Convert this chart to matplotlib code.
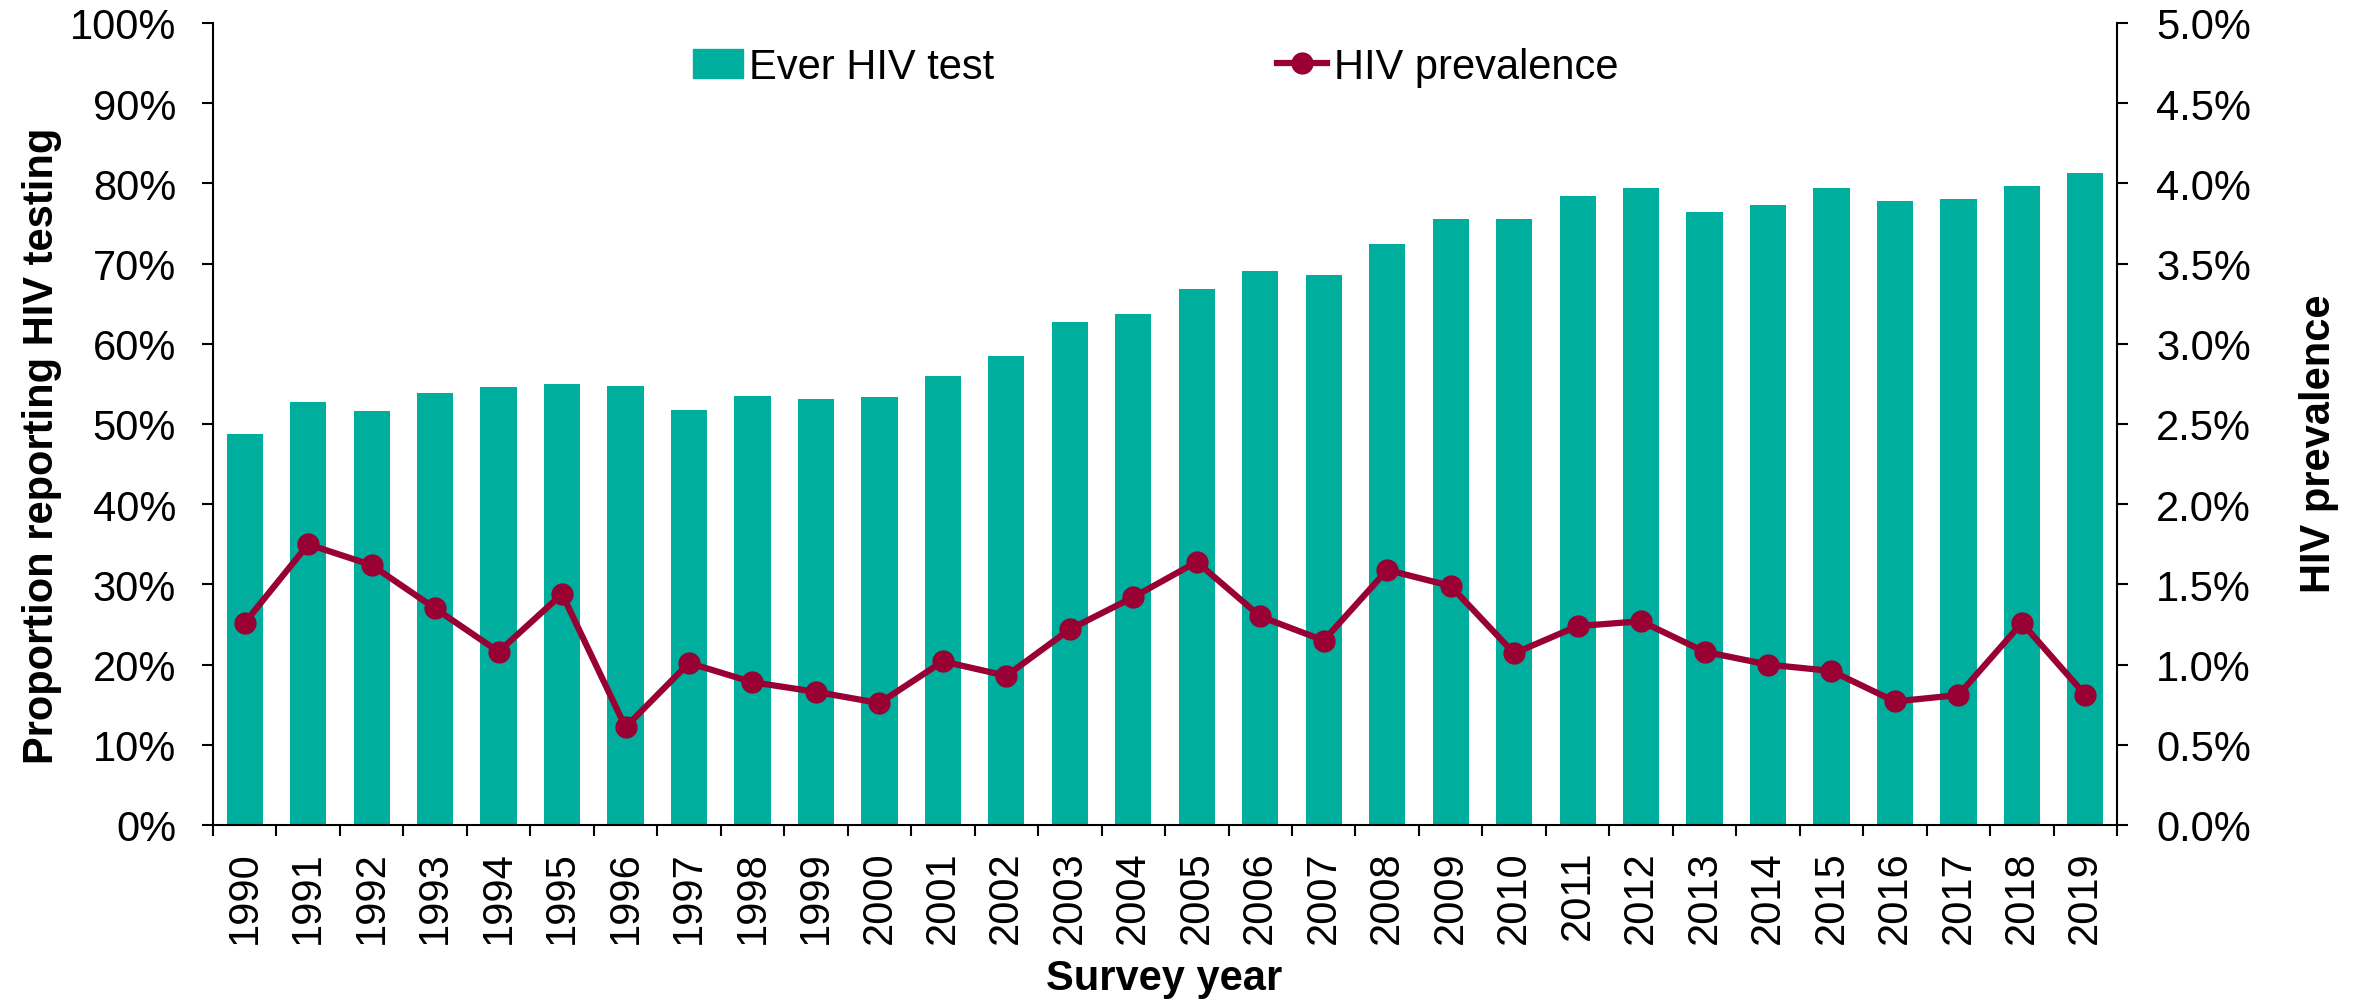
import matplotlib
matplotlib.use('Agg')
import matplotlib.pyplot as plt
import numpy as np
from matplotlib.ticker import PercentFormatter, FixedLocator
from matplotlib.patches import Patch
from matplotlib.lines import Line2D

plt.rcParams['font.family'] = ['Liberation Sans', 'DejaVu Sans']

# data
years = [str(y) for y in range(1990, 2020)]
ever_tested = [48.7, 52.8, 51.6, 53.8, 54.6, 55.0, 54.7, 51.8, 53.5, 53.1,
               53.4, 56.0, 58.5, 62.7, 63.7, 66.8, 69.1, 68.6, 72.5, 75.6,
               75.6, 78.4, 79.4, 76.4, 77.3, 79.4, 77.8, 78.0, 79.7, 81.3]
prevalence = [1.26, 1.75, 1.62, 1.35, 1.08, 1.44, 0.61, 1.01, 0.89, 0.83,
              0.76, 1.02, 0.93, 1.22, 1.42, 1.64, 1.30, 1.15, 1.59, 1.49,
              1.07, 1.24, 1.27, 1.08, 1.00, 0.96, 0.77, 0.81, 1.26, 0.81]

teal = '#00AE9D'
maroon = '#990033'

fig = plt.figure(figsize=(23.61, 10.03), dpi=100)
ax = fig.add_axes([0.0902, 0.1765, 0.8065, 0.7996])
x = np.arange(len(years))

ax.bar(x, ever_tested, width=0.57, color=teal, zorder=2)
ax.set_xlim(-0.5, len(years) - 0.5)
ax.set_ylim(0, 100)
ax.set_yticks(np.arange(0, 101, 10))
ax.yaxis.set_major_formatter(PercentFormatter(decimals=0))

# ticks on category boundaries, labels at centres
ax.xaxis.set_major_locator(FixedLocator(np.arange(-0.5, len(years), 1)))
ax.xaxis.set_minor_locator(FixedLocator(x))
ax.set_xticklabels([], minor=False)
ax.set_xticklabels(years, minor=True, rotation=90)
ax.tick_params(axis='x', which='major', length=8, width=1.5, direction='out')
ax.tick_params(axis='x', which='minor', length=0, pad=18, labelsize=30)
ax.tick_params(axis='y', length=8, width=1.5, pad=18.5, labelsize=30)

ax.spines['top'].set_visible(False)
ax.spines['right'].set_visible(False)
ax.spines['left'].set_linewidth(1.5)
ax.spines['bottom'].set_linewidth(1.5)

ax2 = ax.twinx()
ax2.plot(x, prevalence, color=maroon, lw=4.5, marker='o', markersize=15,
         zorder=3)
ax2.set_ylim(0, 5)
ax2.set_yticks(np.arange(0, 5.01, 0.5))
ax2.yaxis.set_major_formatter(PercentFormatter(decimals=1))
ax2.tick_params(axis='y', length=8, width=1.5, pad=20, labelsize=30)
ax2.spines['top'].set_visible(False)
ax2.spines['left'].set_visible(False)
ax2.spines['bottom'].set_visible(False)
ax2.spines['right'].set_linewidth(1.5)

handles = [Patch(color=teal, label='Ever HIV test'),
           Line2D([], [], color=maroon, lw=4.5, marker='o', markersize=15,
                  label='HIV prevalence')]
ax2.legend(handles=handles, loc='center', bbox_to_anchor=(0.495, 0.945),
           ncol=2, frameon=False, fontsize=30, handlelength=1.2,
           handletextpad=0.15, columnspacing=6.8)

fig.text(42 / 2361, 0.556, 'Proportion reporting HIV testing', rotation=90,
         ha='center', va='center', fontsize=30, fontweight='bold')
fig.text(0.982, 0.558, 'HIV prevalence', rotation=90,
         ha='center', va='center', fontsize=30, fontweight='bold')
fig.text(0.493, 0.013, 'Survey year', ha='center', va='baseline',
         fontsize=30, fontweight='bold')

fig.savefig('out.png', dpi=100)
